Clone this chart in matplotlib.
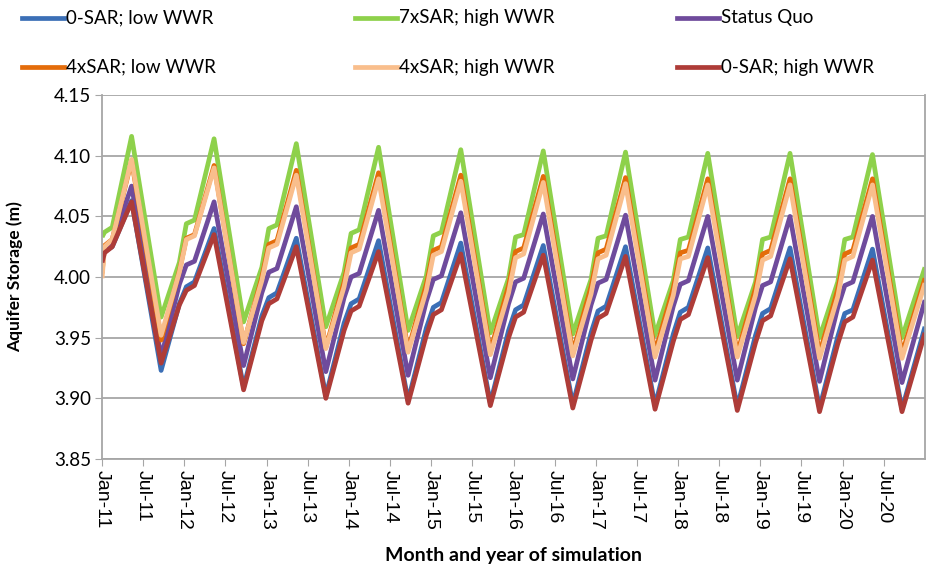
import numpy as np
import pandas as pd
import matplotlib
matplotlib.use('Agg')
import matplotlib.pyplot as plt
import matplotlib.dates as mdates
from matplotlib.lines import Line2D

# dates of the key points (trough, shoulder, peak ...)
dates = ['2011-01-01', '2011-01-12', '2011-02-15', '2011-05-12', '2011-09-20', '2011-12-10',
         '2012-01-10', '2012-02-15', '2012-05-12', '2012-09-20', '2012-12-10',
         '2013-01-10', '2013-02-15', '2013-05-12', '2013-09-20', '2013-12-10',
         '2014-01-10', '2014-02-15', '2014-05-12', '2014-09-20', '2014-12-10',
         '2015-01-10', '2015-02-15', '2015-05-12', '2015-09-20', '2015-12-10',
         '2016-01-10', '2016-02-15', '2016-05-12', '2016-09-20', '2016-12-10',
         '2017-01-10', '2017-02-15', '2017-05-12', '2017-09-20', '2017-12-10',
         '2018-01-10', '2018-02-15', '2018-05-12', '2018-09-20', '2018-12-10',
         '2019-01-10', '2019-02-15', '2019-05-12', '2019-09-20', '2019-12-10',
         '2020-01-10', '2020-02-15', '2020-05-12', '2020-09-20', '2020-12-31']

sar0_low = [4.018, 4.021, 4.025, 4.063, 3.923, 3.978,
            3.992, 3.996, 4.040, 3.909, 3.968,
            3.983, 3.987, 4.032, 3.902, 3.962,
            3.978, 3.982, 4.030, 3.898, 3.958,
            3.975, 3.979, 4.028, 3.896, 3.956,
            3.973, 3.977, 4.026, 3.895, 3.954,
            3.972, 3.976, 4.025, 3.894, 3.953,
            3.971, 3.975, 4.024, 3.893, 3.952,
            3.970, 3.974, 4.024, 3.892, 3.951,
            3.970, 3.973, 4.023, 3.891, 3.959]

sar7_high = [4.033, 4.037, 4.041, 4.116, 3.967, 4.012,
             4.044, 4.047, 4.114, 3.963, 4.008,
             4.040, 4.043, 4.110, 3.959, 4.004,
             4.036, 4.039, 4.107, 3.956, 4.001,
             4.034, 4.037, 4.105, 3.954, 3.999,
             4.033, 4.035, 4.104, 3.953, 3.998,
             4.032, 4.034, 4.103, 3.952, 3.997,
             4.031, 4.033, 4.102, 3.951, 3.996,
             4.031, 4.033, 4.102, 3.950, 3.996,
             4.031, 4.033, 4.101, 3.950, 4.008]

status_quo = [4.022, 4.024, 4.028, 4.075, 3.934, 3.994,
              4.010, 4.013, 4.062, 3.927, 3.987,
              4.004, 4.007, 4.058, 3.922, 3.983,
              4.000, 4.003, 4.055, 3.919, 3.980,
              3.998, 4.001, 4.053, 3.917, 3.978,
              3.996, 3.999, 4.052, 3.916, 3.977,
              3.995, 3.998, 4.051, 3.915, 3.976,
              3.994, 3.997, 4.050, 3.915, 3.975,
              3.993, 3.996, 4.050, 3.914, 3.975,
              3.993, 3.996, 4.050, 3.913, 3.981]

sar4_low = [4.003, 4.026, 4.031, 4.096, 3.948, 4.005,
            4.032, 4.035, 4.092, 3.945, 4.000,
            4.027, 4.030, 4.088, 3.942, 3.996,
            4.024, 4.027, 4.086, 3.940, 3.994,
            4.022, 4.025, 4.084, 3.939, 3.993,
            4.021, 4.024, 4.083, 3.938, 3.992,
            4.020, 4.023, 4.082, 3.938, 3.991,
            4.020, 4.022, 4.081, 3.937, 3.991,
            4.019, 4.022, 4.081, 3.937, 3.990,
            4.019, 4.022, 4.081, 3.937, 3.999]

sar4_high = [3.999, 4.025, 4.031, 4.097, 3.952, 4.004,
             4.031, 4.034, 4.090, 3.946, 3.997,
             4.024, 4.027, 4.084, 3.941, 3.992,
             4.020, 4.023, 4.081, 3.938, 3.989,
             4.018, 4.021, 4.079, 3.936, 3.987,
             4.016, 4.019, 4.078, 3.935, 3.986,
             4.015, 4.018, 4.077, 3.934, 3.985,
             4.015, 4.017, 4.076, 3.934, 3.985,
             4.014, 4.017, 4.076, 3.933, 3.984,
             4.014, 4.017, 4.076, 3.933, 3.995]

sar0_high = [4.012, 4.020, 4.025, 4.062, 3.929, 3.977,
             3.989, 3.993, 4.035, 3.907, 3.964,
             3.978, 3.982, 4.025, 3.900, 3.956,
             3.972, 3.976, 4.021, 3.896, 3.952,
             3.969, 3.973, 4.019, 3.894, 3.950,
             3.967, 3.971, 4.018, 3.892, 3.948,
             3.966, 3.970, 4.017, 3.891, 3.947,
             3.965, 3.969, 4.016, 3.890, 3.946,
             3.964, 3.968, 4.015, 3.889, 3.945,
             3.963, 3.967, 4.014, 3.889, 3.954]

labels = ['0-SAR; low WWR', '7xSAR; high WWR', 'Status Quo',
          '4xSAR; low WWR', '4xSAR; high WWR', '0-SAR; high WWR']
colors = ['#3B6FB6', '#8ED14B', '#6F4B9C', '#E46C0A', '#F9BE8C', '#AE3C38']
series = [sar0_low, sar7_high, status_quo, sar4_low, sar4_high, sar0_high]

# Jan / Jul ticks, last labelled one is Jul-20
tick_dates = pd.date_range('2011-01-01', '2020-07-01', freq='6MS')

x = pd.to_datetime(dates)

fig = plt.figure(figsize=(9.28, 5.73), dpi=100)
ax = fig.add_axes([0.110, 0.199, 0.887, 0.635])

for vals, c in zip(series, colors):
    ax.plot(x, vals, color=c, lw=3.4, solid_joinstyle='round', solid_capstyle='butt')

ax.set_xlim(pd.Timestamp('2011-01-01'), pd.Timestamp('2021-01-01'))
ax.set_ylim(3.85, 4.15)
ax.set_yticks(np.arange(3.85, 4.151, 0.05))
ax.yaxis.set_major_formatter(plt.FormatStrFormatter('%.2f'))
ax.grid(axis='y', color='#A6A6A6', lw=1.3)
ax.set_axisbelow(True)

ax.set_xticks(tick_dates)
ax.xaxis.set_major_formatter(mdates.DateFormatter('%b-%y'))
for lab in ax.get_xticklabels():
    lab.set_rotation(-90)

ax.tick_params(axis='x', direction='out', length=5, color='#A6A6A6', labelsize=14, pad=3)
ax.tick_params(axis='y', direction='out', length=5, color='#A6A6A6', labelsize=13.5, pad=3)
for lab in ax.get_xticklabels():
    lab.set_fontfamily('Liberation Sans')
for lab in ax.get_yticklabels():
    lab.set_fontfamily('Lato')

ax.spines['top'].set_visible(False)
for s in ['left', 'bottom', 'right']:
    ax.spines[s].set_color('#A6A6A6')
    ax.spines[s].set_linewidth(1.3)

ax.set_xlabel('Month and year of simulation', fontsize=14, fontweight='bold', family='Lato', labelpad=12)
ax.set_ylabel('Aquifer Storage (m)', fontsize=12.5, fontweight='bold', family='Lato', labelpad=22)

# legend, 3 columns x 2 rows at the top
col_x = [22, 355, 677]
row_y = [18, 67]
for i, (lab, c) in enumerate(zip(labels, colors)):
    r, k = divmod(i, 3)
    x0 = col_x[k] / 928
    y0 = 1 - row_y[r] / 573
    fig.add_artist(Line2D([x0, x0 + 42 / 928], [y0, y0], transform=fig.transFigure,
                          color=c, lw=3.4))
    fig.text(x0 + 44 / 928, y0, lab, fontsize=13.5, family='Lato', va='center', ha='left')

fig.savefig('out.png', dpi=100)
